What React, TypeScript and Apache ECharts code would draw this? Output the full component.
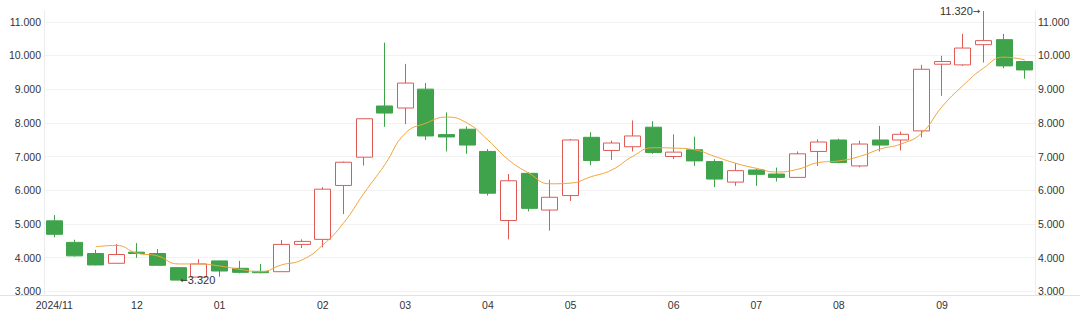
import React, { useEffect, useRef } from 'react';
import * as echarts from 'echarts';

const dates = [
  '2024-11-08', '2024-11-15', '2024-11-22', '2024-11-29', '2024-12-06', '2024-12-13', '2024-12-20', '2024-12-27',
  '2025-01-03', '2025-01-10', '2025-01-17', '2025-01-24', '2025-01-31', '2025-02-07', '2025-02-14', '2025-02-21',
  '2025-02-28', '2025-03-07', '2025-03-14', '2025-03-21', '2025-03-28', '2025-04-04', '2025-04-11', '2025-04-18',
  '2025-04-25', '2025-05-02', '2025-05-09', '2025-05-16', '2025-05-23', '2025-05-30', '2025-06-06', '2025-06-13',
  '2025-06-20', '2025-06-27', '2025-07-04', '2025-07-11', '2025-07-18', '2025-07-25', '2025-08-01', '2025-08-08',
  '2025-08-15', '2025-08-22', '2025-08-29', '2025-09-05', '2025-09-12', '2025-09-19', '2025-09-26', '2025-09-30',
];

const opens = [
  5.09, 4.45, 4.12, 3.83, 4.16, 4.12, 3.70, 3.42,
  3.90, 3.68, 3.59, 3.58, 4.39, 4.54, 6.14, 6.98,
  8.50, 8.44, 9.00, 7.65, 7.81, 7.15, 5.10, 6.50,
  5.41, 5.84, 7.57, 7.18, 7.29, 7.87, 7.00, 7.20,
  6.85, 6.24, 6.60, 6.48, 6.38, 7.15, 7.49, 6.72,
  7.49, 7.49, 7.76, 9.74, 9.72, 10.32, 10.47, 9.82,
];

const closes = [
  4.69, 4.05, 3.78, 4.09, 4.12, 3.77, 3.33, 3.81,
  3.60, 3.56, 3.55, 4.39, 4.48, 6.03, 6.83, 8.12,
  8.29, 9.18, 7.61, 7.58, 7.34, 5.91, 6.28, 5.46,
  5.79, 7.49, 6.88, 7.40, 7.61, 7.12, 7.13, 6.87,
  6.33, 6.58, 6.47, 6.38, 7.08, 7.43, 6.82, 7.37,
  7.34, 7.66, 9.59, 9.82, 10.22, 10.44, 9.69, 9.57,
];

const lows = [
  4.60, 4.03, 3.77, 3.82, 3.99, 3.76, 3.32, 3.40,
  3.43, 3.53, 3.53, 3.57, 4.28, 4.30, 5.29, 6.73,
  7.88, 7.96, 7.49, 7.15, 7.08, 5.84, 4.54, 5.37,
  4.80, 5.68, 6.74, 6.90, 7.15, 7.08, 6.92, 6.72,
  6.09, 6.13, 6.13, 6.26, 6.37, 6.72, 6.80, 6.68,
  7.15, 7.18, 7.57, 8.80, 9.69, 9.79, 9.62, 9.31,
];

const highs = [
  5.26, 4.53, 4.23, 4.40, 4.43, 4.25, 3.72, 3.95,
  3.91, 3.90, 3.81, 4.52, 4.54, 6.09, 6.85, 8.13,
  10.38, 9.75, 9.18, 8.31, 7.89, 7.22, 6.48, 6.53,
  6.31, 7.52, 7.72, 7.47, 8.07, 8.05, 7.66, 7.59,
  6.92, 6.80, 6.63, 6.67, 7.15, 7.51, 7.53, 7.47,
  7.91, 7.74, 9.72, 9.99, 10.64, 11.32, 10.64, 9.84,
];

const ma5: (number | string)[] = [
  '-', '-', 4.32, 4.36, 4.13, 4.05, 3.81, 3.81,
  3.75, 3.65, 3.58, 3.78, 3.93, 4.37, 5.02, 5.91,
  6.75, 7.69, 7.99, 8.17, 7.99, 7.49, 6.90, 6.50,
  6.19, 6.21, 6.40, 6.60, 7.00, 7.26, 7.25, 7.20,
  7.00, 6.80, 6.65, 6.54, 6.62, 6.82, 6.87, 7.00,
  7.22, 7.37, 7.69, 8.48, 9.10, 9.62, 9.95, 9.87,
];

const lowMark = { index: 6, value: 3.32, text: '{a|←}{b|3.320}' };
const highMark = { index: 45, value: 11.32, text: '{b|11.320}{a|→}' };

const yMin = 2.888;
const yMax = 11.32;

const UP = '#e05a55';
const DOWN = '#3fa34b';
const MA_COLOR = '#f0a43a';
const TEXT = '#333';
const FONT = 'Liberation Sans, Arial, Helvetica, sans-serif';

export default function App() {
  const ref = useRef<HTMLDivElement>(null);

  useEffect(() => {
    document.body.style.margin = '0';
    const chart = echarts.init(ref.current as HTMLDivElement, null, { renderer: 'svg' });
    const kdata = dates.map((_, i) => [opens[i], closes[i], lows[i], highs[i]]);

    const yAxisCommon = {
      type: 'value',
      min: yMin,
      max: yMax,
      splitNumber: 8,
      scale: true,
      axisTick: { show: false },
      axisLabel: {
        color: TEXT,
        fontSize: 10.5,
        fontFamily: FONT,
        margin: 3,
        showMinLabel: false,
        showMaxLabel: false,
        formatter: (v: number) => v.toFixed(3),
      },
    };

    const markRich = {
      a: { fontFamily: 'DejaVu Sans', fontSize: 9, color: TEXT },
      b: { fontFamily: FONT, fontSize: 11, color: TEXT },
    };

    chart.setOption({
      animation: false,
      backgroundColor: '#fff',
      grid: { left: 44, right: 45, top: 11, bottom: 17 },
      xAxis: {
        type: 'category',
        data: dates,
        boundaryGap: true,
        axisLine: { show: false },
        axisTick: { show: false },
        splitLine: { show: false },
        axisLabel: {
          color: TEXT,
          fontSize: 10.5,
          fontFamily: FONT,
          margin: 4,
          interval: (i: number, v: string) => i === 0 || v.slice(5, 7) !== dates[i - 1].slice(5, 7),
          formatter: (v: string, i: number) => (i === 0 ? v.slice(0, 4) + '/' + v.slice(5, 7) : v.slice(5, 7)),
        },
      },
      yAxis: [
        {
          ...yAxisCommon,
          position: 'left',
          axisLine: { show: true, lineStyle: { color: '#ececec' } },
          splitLine: { show: true, showMinLine: false, showMaxLine: false, lineStyle: { color: '#f2f2f2' } },
        },
        {
          ...yAxisCommon,
          position: 'right',
          axisLine: { show: true, lineStyle: { color: '#ececec' } },
          splitLine: { show: false },
        },
      ],
      graphic: [
        {
          type: 'line',
          shape: { x1: 0, y1: 295.5, x2: 1080, y2: 295.5 },
          style: { stroke: '#e2e2e2', lineWidth: 1 },
          silent: true,
        },
      ],
      series: [
        {
          type: 'candlestick',
          data: kdata,
          barWidth: '80%',
          itemStyle: {
            color: '#ffffff',
            color0: DOWN,
            borderColor: UP,
            borderColor0: DOWN,
            borderWidth: 1,
          },
          markPoint: {
            symbol: 'circle',
            symbolSize: 0,
            itemStyle: { color: 'transparent' },
            label: { color: TEXT, fontSize: 11, fontFamily: FONT, rich: markRich },
            data: [
              {
                coord: [dates[lowMark.index], lowMark.value],
                value: lowMark.value,
                label: { show: true, position: 'right', distance: 2, formatter: lowMark.text, rich: markRich },
              },
              {
                coord: [dates[highMark.index], highMark.value],
                value: highMark.value,
                label: { show: true, position: 'left', distance: 3, formatter: highMark.text, rich: markRich },
              },
            ],
          },
        },
        {
          type: 'line',
          data: ma5,
          smooth: true,
          symbol: 'none',
          lineStyle: { color: MA_COLOR, width: 1 },
          itemStyle: { color: MA_COLOR },
          z: 3,
        },
      ],
    });

    return () => chart.dispose();
  }, []);

  return <div ref={ref} style={{ position: 'absolute', left: 0, top: 0, width: 1080, height: 312 }} />;
}
